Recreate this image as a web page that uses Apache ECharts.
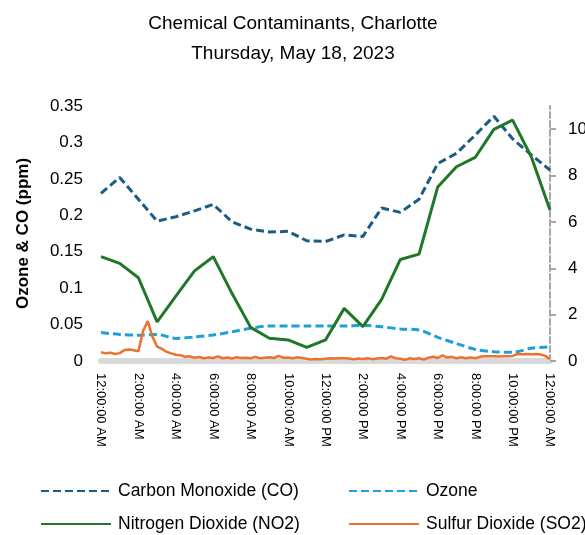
<!DOCTYPE html>
<html>
<head>
<meta charset="utf-8">
<script src="https://cdn.jsdelivr.net/npm/echarts@6/dist/echarts.min.js"></script>
<style>
  html, body { margin: 0; padding: 0; background: #fff; }
  #chart { width: 585px; height: 535px; }
</style>
</head>
<body>
<div id="chart"></div>
<script>
// hourly readings, midnight to midnight
var hours = [0, 1, 2, 3, 4, 5, 6, 7, 8, 9, 10, 11, 12, 13, 14, 15, 16, 17, 18, 19, 20, 21, 22, 23, 24];
var coValues = [0.230, 0.252, 0.222, 0.192, 0.198, 0.206, 0.215, 0.191, 0.181, 0.177, 0.178, 0.165, 0.164,
  0.173, 0.171, 0.210, 0.204, 0.222, 0.271, 0.285, 0.310, 0.336, 0.305, 0.283, 0.262];
var ozoneValues = [0.039, 0.0365, 0.0355, 0.0365, 0.031, 0.033, 0.0357, 0.040, 0.045, 0.048, 0.048, 0.048, 0.048,
  0.048, 0.049, 0.047, 0.044, 0.0425, 0.0325, 0.024, 0.016, 0.0128, 0.012, 0.0174, 0.0196];
var no2Values = [4.50, 4.21, 3.59, 1.69, 2.80, 3.89, 4.50, 2.92, 1.45, 0.98, 0.91, 0.59, 0.91,
  2.27, 1.48, 2.66, 4.38, 4.61, 7.51, 8.38, 8.78, 9.99, 10.39, 8.81, 6.51];

// SO2 is logged every 15 minutes
var so2StepMinutes = 15;
var so2Values = [
  0.38, 0.33, 0.36, 0.30, 0.34, 0.47, 0.50, 0.46, 0.42, 1.30, 1.72, 1.05,
  0.62, 0.52, 0.40, 0.33, 0.27, 0.25, 0.18, 0.20, 0.14, 0.17, 0.12, 0.15,
  0.13, 0.20, 0.12, 0.15, 0.11, 0.16, 0.13, 0.14, 0.12, 0.18, 0.12, 0.14,
  0.16, 0.13, 0.22, 0.14, 0.15, 0.12, 0.16, 0.13, 0.10, 0.06, 0.09, 0.07,
  0.10, 0.12, 0.11, 0.12, 0.12, 0.11, 0.07, 0.11, 0.09, 0.12, 0.08, 0.11,
  0.13, 0.10, 0.20, 0.12, 0.10, 0.05, 0.12, 0.09, 0.12, 0.06, 0.14, 0.18,
  0.13, 0.24, 0.15, 0.18, 0.12, 0.16, 0.12, 0.15, 0.12, 0.18, 0.20, 0.20,
  0.20, 0.19, 0.20, 0.20, 0.22, 0.30, 0.29, 0.30, 0.29, 0.30, 0.28, 0.22,
  0.08
];

var timeLabels = ["12:00:00 AM", "2:00:00 AM", "4:00:00 AM", "6:00:00 AM", "8:00:00 AM", "10:00:00 AM",
  "12:00:00 PM", "2:00:00 PM", "4:00:00 PM", "6:00:00 PM", "8:00:00 PM", "10:00:00 PM", "12:00:00 AM"];
var leftTicks = [0, 0.05, 0.1, 0.15, 0.2, 0.25, 0.3, 0.35];
var rightTicks = [0, 2, 4, 6, 8, 10];

var FONT = "'Liberation Sans', Arial, sans-serif";

function pairs(xs, ys) {
  var out = [];
  for (var i = 0; i < ys.length; i++) out.push([xs[i], ys[i]]);
  return out;
}
var so2Data = [];
for (var i = 0; i < so2Values.length; i++) {
  so2Data.push([i * so2StepMinutes / 60, so2Values[i]]);
}

var legendText = { fontFamily: FONT, fontSize: 17.5, color: "#000", lineHeight: 20, padding: [0, 0, 0, 2] };
// hide the little circle echarts puts in the middle of line icons
var noMarker = { opacity: 0, color: "rgba(0,0,0,0)", borderWidth: 0 };

var chart = echarts.init(document.getElementById("chart"));
var option = {
  backgroundColor: "#fff",
  animation: false,
  title: {
    text: "Chemical Contaminants, Charlotte\nThursday, May 18, 2023",
    left: 288,
    textAlign: "center",
    top: 4,
    textStyle: { fontFamily: FONT, fontSize: 19, fontWeight: "normal", color: "#000", lineHeight: 30 }
  },
  legend: [
    {
      left: 40, top: 481, height: 80, orient: "vertical", itemGap: 13,
      itemWidth: 70, itemHeight: 14, padding: 0,
      itemStyle: noMarker,
      data: ["Carbon Monoxide (CO)", "Nitrogen Dioxide (NO2)"],
      textStyle: legendText
    },
    {
      left: 348, top: 481, height: 80, orient: "vertical", itemGap: 13,
      itemWidth: 70, itemHeight: 14, padding: 0,
      itemStyle: noMarker,
      data: ["Ozone", "Sulfur Dioxide (SO2)"],
      textStyle: legendText
    }
  ],
  grid: { left: 101, right: 35, top: 106, bottom: 174, outerBoundsMode: "none", containLabel: false },
  xAxis: {
    type: "value",
    min: 0, max: 24, interval: 2,
    offset: 3,
    splitLine: { show: false },
    axisTick: { show: false },
    axisLine: { lineStyle: { color: "#d9d9d9", width: 6 } },
    axisLabel: {
      rotate: -90,
      margin: 9,
      fontFamily: FONT, fontSize: 13, color: "#000",
      formatter: function (v) { return timeLabels[Math.round(v / 2)]; }
    }
  },
  yAxis: [
    {
      type: "value",
      min: 0, max: 0.35, interval: 0.05,
      name: "Ozone & CO (ppm)",
      nameLocation: "middle",
      nameRotate: 90,
      nameGap: 69,
      nameTextStyle: { fontFamily: FONT, fontSize: 17, fontWeight: "bold", color: "#000" },
      splitLine: { show: false },
      axisLine: { show: false },
      axisTick: { show: false },
      axisLabel: {
        margin: 18, fontFamily: FONT, fontSize: 17, color: "#000",
        customValues: leftTicks
      }
    },
    {
      type: "value",
      position: "right",
      min: 0, max: 11, interval: 2,
      splitLine: { show: false },
      axisLine: { show: true, lineStyle: { color: "#a6a6a6", width: 2, type: [6, 3] } },
      axisTick: { show: true, length: 6, customValues: rightTicks, lineStyle: { color: "#a6a6a6", width: 2 } },
      axisLabel: {
        margin: 18, fontFamily: FONT, fontSize: 17, color: "#000",
        customValues: rightTicks
      }
    }
  ],
  series: [
    {
      name: "Carbon Monoxide (CO)", type: "line", yAxisIndex: 0,
      symbol: "none", color: "#1c5c84",
      lineStyle: { width: 3, type: [8, 4], color: "#1c5c84" },
      data: pairs(hours, coValues)
    },
    {
      name: "Ozone", type: "line", yAxisIndex: 0,
      symbol: "none", smooth: 0.3, color: "#1f9fd9",
      lineStyle: { width: 3, type: [8, 4], color: "#1f9fd9" },
      data: pairs(hours, ozoneValues)
    },
    {
      name: "Nitrogen Dioxide (NO2)", type: "line", yAxisIndex: 1,
      symbol: "none", color: "#217728",
      lineStyle: { width: 3, color: "#217728" },
      data: pairs(hours, no2Values)
    },
    {
      name: "Sulfur Dioxide (SO2)", type: "line", yAxisIndex: 1,
      symbol: "none", color: "#ed7230",
      lineStyle: { width: 2.5, color: "#ed7230" },
      data: so2Data
    }
  ]
};
chart.setOption(option);
</script>
</body>
</html>
